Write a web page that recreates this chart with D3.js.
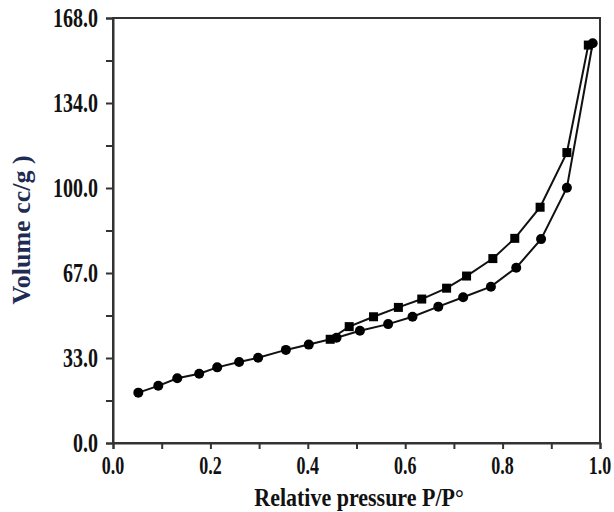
<!DOCTYPE html>
<html>
<head>
<meta charset="utf-8">
<script src="https://cdn.jsdelivr.net/npm/d3@7"></script>
<style>
  body { margin: 0; background: #fff; }
  text { font-family: "Liberation Serif", "Times New Roman", serif; font-weight: bold; }
</style>
</head>
<body>
<div id="chart"></div>
<script>
// adsorption branch (circles)
var adsX = [0.052, 0.093, 0.132, 0.177, 0.214, 0.259, 0.298, 0.355, 0.402, 0.459,
  0.507, 0.565, 0.615, 0.668, 0.719, 0.776, 0.828, 0.879, 0.932, 0.985];
var adsY = [19.9, 22.6, 25.6, 27.4, 29.9, 32.0, 33.7, 36.8, 38.9, 41.6,
  44.4, 47.0, 49.9, 53.9, 57.6, 61.8, 69.3, 80.6, 100.9, 158.0];

// desorption branch (squares)
var desX = [0.976, 0.932, 0.877, 0.825, 0.780, 0.726, 0.685, 0.634, 0.586, 0.535, 0.485, 0.446];
var desY = [157.3, 114.8, 93.2, 80.9, 72.9, 66.0, 61.2, 56.9, 53.6, 49.9, 46.0, 41.0];

var xTicks = [0, 0.2, 0.4, 0.6, 0.8, 1.0];
var xTickLabels = ['0.0', '0.2', '0.4', '0.6', '0.8', '1.0'];
var yTicks = [0, 33.6, 67.2, 100.8, 134.4, 168];
var yTickLabels = ['0.0', '33.0', '67.0', '100.0', '134.0', '168.0'];

var width = 614, height = 512;
var margin = { top: 18, right: 14, bottom: 69, left: 113 };

var svg = d3.select('#chart').append('svg')
  .attr('width', width)
  .attr('height', height);

var x = d3.scaleLinear().domain([0, 1]).range([margin.left, width - margin.right]);
var y = d3.scaleLinear().domain([0, 168]).range([height - margin.bottom, margin.top]);

var axisColour = '#333';

// frame
svg.append('rect')
  .attr('x', x(0))
  .attr('y', y(168))
  .attr('width', x(1) - x(0))
  .attr('height', y(0) - y(168))
  .attr('fill', 'none')
  .attr('stroke', axisColour)
  .attr('stroke-width', 2);

// minor ticks halfway between the majors
var xMinor = d3.range(0, 1.01, 0.1);
var yMinor = d3.range(0, 168.1, 16.8);

var xAxis = d3.axisBottom(x).tickValues(xMinor).tickSize(6).tickFormat('');
var yAxis = d3.axisLeft(y).tickValues(yMinor).tickSize(7).tickFormat('');

var gx = svg.append('g').attr('transform', 'translate(0,' + y(0) + ')').call(xAxis);
var gy = svg.append('g').attr('transform', 'translate(' + x(0) + ',0)').call(yAxis);
[gx, gy].forEach(function (g) {
  g.select('.domain').attr('stroke', axisColour).attr('stroke-width', 2);
  g.selectAll('.tick line').attr('stroke', axisColour).attr('stroke-width', 2);
});

// the source picture is squeezed sideways, so the type is stretched tall
var stretch = 1.4;

svg.selectAll('.x-label')
  .data(xTicks)
  .enter()
  .append('text')
  .attr('class', 'x-label')
  .attr('text-anchor', 'middle')
  .attr('font-size', 18)
  .attr('fill', '#111')
  .attr('transform', function (d) {
    return 'translate(' + x(d) + ',' + (y(0) + 31) + ') scale(1,' + stretch + ')';
  })
  .text(function (d, i) { return xTickLabels[i]; });

svg.selectAll('.y-label')
  .data(yTicks)
  .enter()
  .append('text')
  .attr('class', 'y-label')
  .attr('text-anchor', 'end')
  .attr('font-size', 20)
  .attr('fill', '#111')
  .attr('transform', function (d) {
    return 'translate(' + (x(0) - 15) + ',' + (y(d) + 9) + ') scale(1,' + 1.35 + ')';
  })
  .text(function (d, i) { return yTickLabels[i]; });

// axis titles
svg.append('text')
  .attr('text-anchor', 'middle')
  .attr('font-size', 22)
  .attr('fill', '#111')
  .attr('transform', 'translate(' + 359 + ',' + (y(0) + 63) + ') scale(1,1.1)')
  .text('Relative pressure P/P\u00b0');

svg.append('text')
  .attr('text-anchor', 'middle')
  .attr('font-size', 26)
  .attr('fill', '#1e2b52')
  .attr('transform', 'translate(30,230) rotate(-90) scale(1,0.95)')
  .text('Volume cc/g )');

// lines
var ads = adsX.map(function (v, i) { return [v, adsY[i]]; });
var des = desX.map(function (v, i) { return [v, desY[i]]; });

var line = d3.line()
  .x(function (d) { return x(d[0]); })
  .y(function (d) { return y(d[1]); });

[ads, des].forEach(function (s) {
  svg.append('path')
    .datum(s)
    .attr('d', line)
    .attr('fill', 'none')
    .attr('stroke', '#111')
    .attr('stroke-width', 2);
});

svg.selectAll('.ads')
  .data(ads)
  .enter()
  .append('circle')
  .attr('class', 'ads')
  .attr('cx', function (d) { return x(d[0]); })
  .attr('cy', function (d) { return y(d[1]); })
  .attr('r', 5)
  .attr('fill', '#000');

svg.selectAll('.des')
  .data(des)
  .enter()
  .append('rect')
  .attr('class', 'des')
  .attr('x', function (d) { return x(d[0]) - 4.5; })
  .attr('y', function (d) { return y(d[1]) - 4.5; })
  .attr('width', 9)
  .attr('height', 9)
  .attr('fill', '#000');
</script>
</body>
</html>
